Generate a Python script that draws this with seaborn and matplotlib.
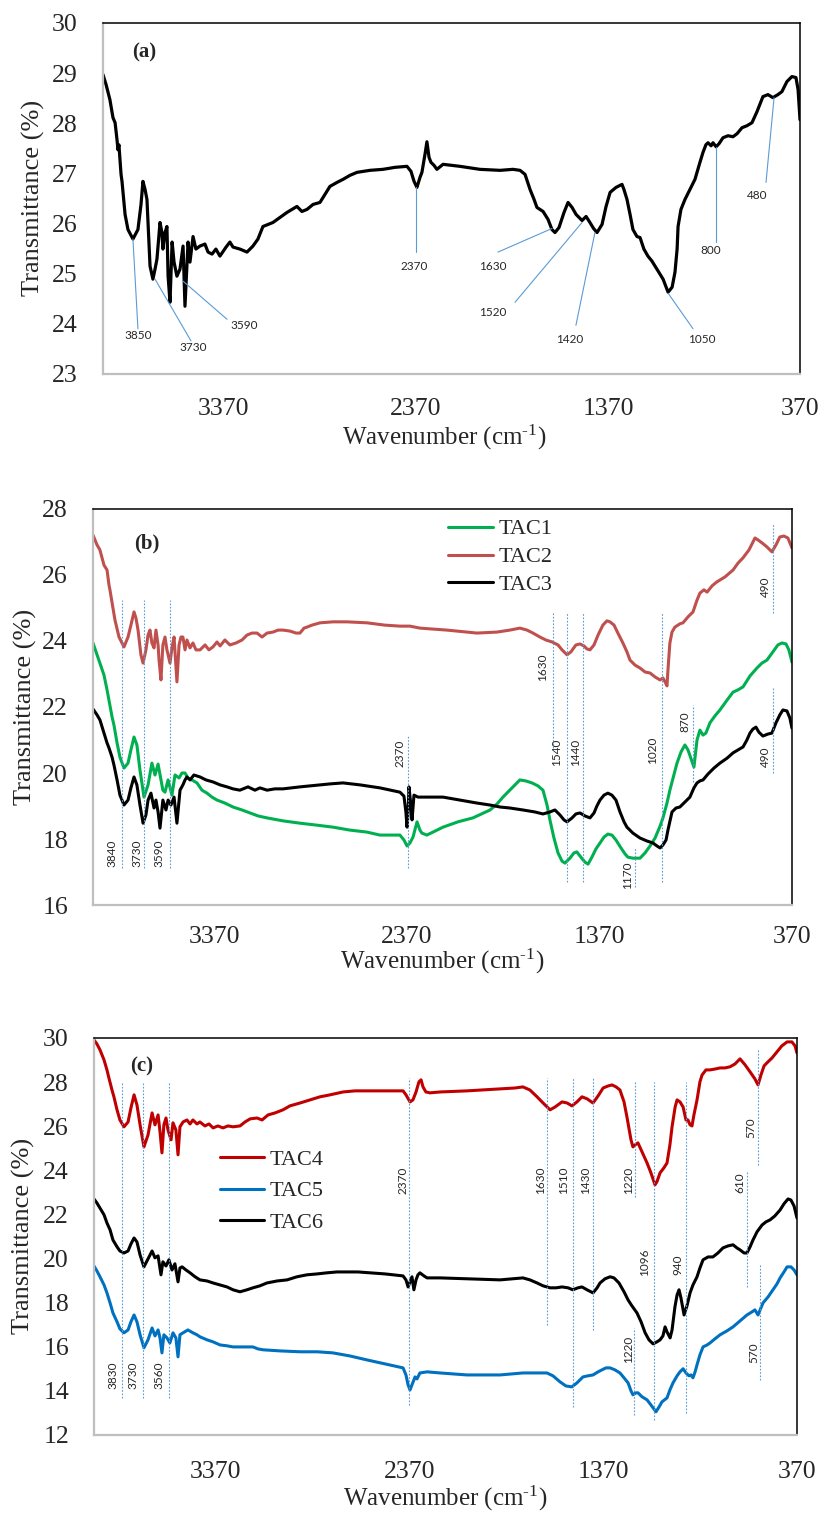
import pandas as pd
import matplotlib
matplotlib.use("Agg")
import matplotlib.pyplot as plt
import seaborn as sns

# ---------------- data ----------------
# panel (a): single spectrum
a_wn = [4000, 3984, 3964, 3948, 3937, 3927, 3922, 3917, 3906, 3901,
        3885, 3870, 3844, 3818, 3802, 3792, 3781, 3771, 3755, 3740,
        3729, 3719, 3703, 3693, 3688, 3677, 3667, 3661, 3651, 3640,
        3630, 3615, 3599, 3583, 3573, 3557, 3547, 3531, 3516, 3495,
        3469, 3453, 3432, 3412, 3391, 3359, 3339, 3323, 3287, 3250,
        3219, 3193, 3167, 3141, 3115, 3078, 3042, 3016, 2990, 2964,
        2938, 2906, 2870, 2844, 2818, 2781, 2750, 2714, 2677, 2610,
        2542, 2479, 2417, 2396, 2380, 2365, 2349, 2339, 2323, 2313,
        2302, 2292, 2276, 2261, 2229, 2141, 2037, 1932, 1865, 1828,
        1802, 1776, 1755, 1740, 1708, 1682, 1662, 1646, 1625, 1599,
        1578, 1557, 1536, 1505, 1484, 1464, 1445, 1427, 1401, 1380,
        1359, 1328, 1297, 1287, 1271, 1255, 1240, 1219, 1203, 1183,
        1162, 1141, 1115, 1083, 1057, 1036, 1021, 1010, 1005, 990,
        969, 943, 917, 891, 875, 860, 849, 833, 823, 807,
        792, 771, 745, 719, 698, 672, 646, 620, 594, 563,
        537, 511, 485, 464, 438, 412, 391, 380, 370]
a_t = [28.97, 28.77, 28.47, 28.11, 28.01, 27.67, 27.47, 27.57, 26.98, 26.84,
       26.18, 25.88, 25.69, 25.88, 26.38, 26.84, 26.68, 26.48, 25.15, 24.89,
       25.09, 25.29, 26.02, 25.82, 25.49, 25.82, 25.94, 24.95, 24.43, 25.63,
       25.23, 24.95, 25.09, 25.55, 24.35, 25.63, 25.23, 25.74, 25.49, 25.55,
       25.59, 25.43, 25.39, 25.49, 25.35, 25.53, 25.63, 25.53, 25.49, 25.43,
       25.55, 25.69, 25.94, 25.98, 26.02, 26.12, 26.22, 26.28, 26.34, 26.24,
       26.28, 26.38, 26.42, 26.58, 26.74, 26.82, 26.88, 26.96, 27.02, 27.06,
       27.08, 27.12, 27.14, 27.04, 26.84, 26.72, 26.92, 27.02, 27.38, 27.63,
       27.32, 27.22, 27.16, 27.08, 27.18, 27.14, 27.08, 27.06, 27.08, 27.06,
       26.98, 26.68, 26.48, 26.32, 26.24, 26.08, 25.88, 25.82, 25.92, 26.22,
       26.42, 26.32, 26.18, 26.06, 26.14, 26.02, 25.90, 25.82, 25.98, 26.34,
       26.62, 26.72, 26.78, 26.68, 26.48, 26.18, 25.88, 25.74, 25.72, 25.49,
       25.35, 25.25, 25.09, 24.89, 24.63, 24.73, 25.03, 25.49, 25.94, 26.28,
       26.48, 26.68, 26.88, 27.22, 27.42, 27.57, 27.61, 27.55, 27.61, 27.53,
       27.59, 27.71, 27.75, 27.73, 27.79, 27.91, 27.95, 28.01, 28.23, 28.53,
       28.57, 28.51, 28.57, 28.63, 28.83, 28.93, 28.91, 28.67, 28.07]

# panel (b)
tac1_wn = [4000, 3979, 3964, 3943, 3927, 3917, 3901, 3891, 3875, 3860,
           3839, 3818, 3803, 3787, 3772, 3756, 3735, 3714, 3694, 3678,
           3662, 3647, 3637, 3626, 3610, 3590, 3574, 3553, 3538, 3522,
           3507, 3486, 3460, 3434, 3408, 3382, 3356, 3315, 3273, 3226,
           3185, 3143, 3096, 3013, 2925, 2837, 2754, 2665, 2577, 2510,
           2406, 2385, 2369, 2354, 2338, 2317, 2302, 2292, 2266, 2182,
           2105, 2027, 1938, 1902, 1871, 1824, 1783, 1752, 1720, 1689,
           1663, 1642, 1627, 1606, 1585, 1564, 1549, 1523, 1502, 1487,
           1466, 1445, 1429, 1409, 1388, 1367, 1346, 1326, 1305, 1284,
           1258, 1237, 1222, 1196, 1159, 1133, 1107, 1081, 1055, 1040,
           1019, 1004, 983, 967, 946, 926, 910, 895, 879, 868,
           863, 848, 832, 817, 796, 770, 744, 707, 676, 650,
           624, 588, 552, 526, 500, 469, 443, 422, 401, 386,
           370]
tac1_t = [23.94, 23.58, 23.33, 22.97, 22.52, 22.21, 21.70, 21.45, 20.91, 20.48,
          20.15, 20.30, 20.70, 21.09, 20.85, 20.09, 19.27, 19.64, 20.30, 19.94,
          20.27, 19.79, 19.48, 19.42, 19.79, 19.33, 19.94, 19.85, 20.00, 20.00,
          19.85, 19.79, 19.70, 19.48, 19.39, 19.27, 19.18, 19.09, 18.97, 18.88,
          18.79, 18.70, 18.64, 18.55, 18.48, 18.42, 18.36, 18.27, 18.21, 18.12,
          18.12, 17.97, 17.79, 17.88, 18.06, 18.52, 18.27, 18.18, 18.12, 18.36,
          18.52, 18.64, 18.88, 19.06, 19.27, 19.55, 19.79, 19.76, 19.70, 19.61,
          19.48, 19.03, 18.58, 18.03, 17.58, 17.33, 17.27, 17.42, 17.58, 17.61,
          17.45, 17.30, 17.24, 17.45, 17.70, 17.88, 18.06, 18.15, 18.12, 17.97,
          17.73, 17.55, 17.45, 17.42, 17.42, 17.58, 17.79, 18.03, 18.39, 18.64,
          19.09, 19.48, 19.94, 20.30, 20.64, 20.85, 20.70, 20.45, 20.18, 20.76,
          21.00, 21.30, 21.15, 21.21, 21.52, 21.73, 21.91, 22.21, 22.45, 22.52,
          22.61, 22.94, 23.18, 23.33, 23.42, 23.67, 23.88, 23.94, 23.91, 23.73,
          23.36]

tac2_wn = [4000, 3979, 3964, 3943, 3927, 3917, 3912, 3896, 3886, 3865,
           3839, 3818, 3803, 3787, 3777, 3766, 3751, 3740, 3725, 3714,
           3704, 3694, 3683, 3673, 3662, 3657, 3647, 3637, 3626, 3616,
           3600, 3590, 3579, 3564, 3553, 3543, 3533, 3522, 3512, 3496,
           3481, 3465, 3444, 3418, 3398, 3377, 3356, 3340, 3315, 3289,
           3257, 3226, 3200, 3174, 3148, 3122, 3096, 3065, 3039, 3013,
           2977, 2946, 2925, 2904, 2889, 2863, 2821, 2754, 2681, 2577,
           2484, 2406, 2354, 2302, 2162, 2006, 1902, 1835, 1783, 1746,
           1715, 1679, 1648, 1616, 1585, 1564, 1538, 1518, 1492, 1471,
           1450, 1435, 1419, 1398, 1377, 1352, 1331, 1315, 1294, 1274,
           1248, 1227, 1211, 1185, 1159, 1133, 1107, 1081, 1055, 1040,
           1029, 1019, 1014, 1004, 993, 978, 952, 936, 910, 884,
           863, 848, 827, 811, 785, 760, 718, 676, 650, 624,
           593, 562, 546, 525, 500, 474, 453, 433, 412, 391,
           370]
tac2_t = [27.21, 26.91, 26.76, 26.30, 26.15, 25.70, 25.55, 25.00, 24.64, 24.12,
          23.82, 24.12, 24.48, 24.88, 24.70, 24.33, 23.58, 23.33, 23.73, 24.18,
          24.33, 23.94, 23.79, 24.33, 23.88, 23.42, 22.82, 23.88, 24.12, 23.73,
          23.33, 23.79, 24.12, 22.76, 23.88, 24.12, 24.12, 23.73, 24.03, 23.79,
          23.94, 23.73, 23.73, 23.88, 23.73, 23.82, 23.97, 23.85, 24.03, 23.88,
          23.94, 24.03, 24.18, 24.24, 24.24, 24.12, 24.24, 24.27, 24.33, 24.33,
          24.30, 24.24, 24.24, 24.39, 24.42, 24.48, 24.55, 24.58, 24.58, 24.55,
          24.48, 24.45, 24.45, 24.39, 24.33, 24.24, 24.27, 24.33, 24.39, 24.33,
          24.24, 24.12, 24.03, 23.97, 23.88, 23.73, 23.58, 23.67, 23.88, 23.91,
          23.85, 23.76, 23.73, 23.88, 24.18, 24.48, 24.61, 24.58, 24.48, 24.24,
          23.94, 23.67, 23.42, 23.27, 23.18, 23.06, 23.03, 22.91, 22.82, 22.88,
          22.76, 22.64, 23.12, 23.94, 24.27, 24.42, 24.52, 24.55, 24.73, 24.88,
          25.24, 25.45, 25.55, 25.48, 25.67, 25.79, 25.94, 26.15, 26.36, 26.52,
          26.76, 27.12, 27.06, 26.97, 26.85, 26.70, 26.91, 27.15, 27.18, 27.12,
          26.82]

tac3_wn = [4000, 3979, 3964, 3943, 3927, 3917, 3901, 3891, 3875, 3860,
           3839, 3818, 3803, 3787, 3772, 3756, 3740, 3725, 3714, 3699,
           3683, 3673, 3662, 3652, 3637, 3621, 3610, 3595, 3579, 3564,
           3548, 3533, 3522, 3512, 3496, 3476, 3444, 3413, 3377, 3340,
           3304, 3273, 3237, 3195, 3159, 3133, 3096, 3055, 3013, 2925,
           2873, 2821, 2769, 2702, 2613, 2510, 2406, 2385, 2375, 2369,
           2364, 2359, 2349, 2343, 2333, 2312, 2286, 2182, 2094, 2006,
           1938, 1886, 1835, 1767, 1705, 1663, 1627, 1601, 1575, 1554,
           1538, 1512, 1492, 1471, 1445, 1419, 1398, 1383, 1367, 1346,
           1326, 1305, 1284, 1263, 1242, 1227, 1196, 1159, 1123, 1092,
           1071, 1055, 1040, 1024, 1014, 993, 972, 952, 926, 900,
           879, 863, 848, 832, 806, 775, 744, 707, 676, 650,
           624, 604, 588, 573, 557, 542, 521, 495, 474, 453,
           433, 417, 396, 381, 370]
tac3_t = [21.94, 21.76, 21.61, 21.21, 20.91, 20.76, 20.48, 20.24, 19.79, 19.33,
          19.03, 19.18, 19.55, 19.88, 19.64, 19.03, 18.48, 18.73, 19.18, 19.39,
          18.94, 19.18, 18.82, 18.33, 19.18, 18.88, 19.18, 19.03, 19.27, 18.48,
          19.48, 19.64, 19.79, 19.88, 19.79, 19.94, 19.88, 19.79, 19.73, 19.64,
          19.58, 19.52, 19.48, 19.58, 19.48, 19.55, 19.48, 19.52, 19.52, 19.58,
          19.61, 19.64, 19.67, 19.70, 19.64, 19.55, 19.42, 19.30, 18.82, 18.36,
          18.73, 19.58, 19.03, 18.58, 19.33, 19.27, 19.27, 19.27, 19.18, 19.09,
          19.03, 18.97, 18.94, 18.88, 18.82, 18.76, 18.82, 18.88, 18.73, 18.58,
          18.52, 18.64, 18.76, 18.79, 18.70, 18.64, 18.79, 19.00, 19.18, 19.33,
          19.39, 19.33, 19.18, 18.82, 18.52, 18.36, 18.18, 18.03, 17.94, 17.88,
          17.79, 17.73, 17.82, 17.97, 18.27, 18.82, 18.94, 18.97, 19.12, 19.27,
          19.55, 19.70, 19.76, 19.79, 19.97, 20.15, 20.30, 20.45, 20.61, 20.70,
          20.79, 21.00, 21.21, 21.33, 21.39, 21.24, 21.12, 21.18, 21.21, 21.52,
          21.76, 21.91, 21.88, 21.67, 21.36]

# panel (c)
tac4_wn = [4000, 3985, 3969, 3948, 3933, 3923, 3907, 3897, 3881, 3866,
           3845, 3824, 3809, 3793, 3778, 3762, 3742, 3721, 3700, 3685,
           3669, 3659, 3649, 3639, 3628, 3618, 3602, 3592, 3577, 3566,
           3556, 3540, 3520, 3504, 3489, 3468, 3453, 3427, 3406, 3385,
           3360, 3334, 3308, 3282, 3246, 3220, 3194, 3158, 3132, 3101,
           3065, 3024, 2988, 2936, 2885, 2833, 2781, 2714, 2652, 2590,
           2497, 2404, 2389, 2368, 2353, 2337, 2322, 2311, 2301, 2286,
           2265, 2213, 2074, 1903, 1826, 1785, 1749, 1712, 1681, 1645,
           1619, 1583, 1557, 1532, 1506, 1480, 1454, 1423, 1397, 1371,
           1346, 1325, 1304, 1284, 1263, 1248, 1227, 1217, 1206, 1191,
           1170, 1144, 1124, 1103, 1093, 1077, 1057, 1041, 1026, 1015,
           999, 989, 974, 958, 943, 933, 922, 912, 902, 886,
           871, 860, 840, 819, 793, 767, 742, 716, 690, 664,
           638, 612, 587, 571, 556, 540, 525, 499, 473, 448,
           421, 396, 380, 370]
tac4_t = [29.91, 29.73, 29.46, 29.00, 28.55, 28.19, 27.64, 27.33, 26.74, 26.28,
          25.97, 26.19, 26.83, 27.42, 26.96, 26.06, 25.06, 25.60, 26.60, 26.06,
          26.51, 25.74, 24.79, 26.06, 26.37, 25.83, 25.38, 26.15, 25.83, 24.70,
          25.97, 26.19, 26.28, 26.10, 26.28, 26.10, 26.19, 26.01, 26.10, 25.92,
          26.01, 25.92, 26.01, 25.97, 26.01, 26.19, 26.33, 26.37, 26.28, 26.51,
          26.60, 26.74, 26.92, 27.05, 27.19, 27.33, 27.42, 27.55, 27.60, 27.60,
          27.60, 27.60, 27.42, 27.10, 27.19, 27.55, 28.01, 28.10, 27.78, 27.55,
          27.51, 27.55, 27.60, 27.69, 27.73, 27.78, 27.64, 27.33, 27.05, 26.74,
          26.87, 27.10, 27.05, 26.92, 27.10, 27.33, 27.24, 27.05, 27.37, 27.73,
          27.82, 27.87, 27.78, 27.64, 27.10, 26.42, 25.38, 25.06, 25.15, 25.24,
          24.83, 24.33, 23.88, 23.34, 23.48, 23.88, 24.11, 24.33, 25.15, 25.97,
          26.87, 27.19, 27.10, 26.87, 26.28, 26.28, 26.06, 26.01, 26.51, 27.19,
          28.01, 28.32, 28.55, 28.55, 28.59, 28.64, 28.64, 28.69, 28.82, 29.05,
          28.78, 28.46, 28.14, 27.87, 28.32, 28.73, 28.87, 29.09, 29.37, 29.64,
          29.82, 29.82, 29.64, 29.32]

tac5_wn = [4000, 3985, 3969, 3948, 3933, 3917, 3902, 3881, 3866, 3845,
           3824, 3809, 3793, 3778, 3762, 3742, 3721, 3700, 3685, 3669,
           3659, 3649, 3639, 3623, 3608, 3592, 3577, 3566, 3556, 3540,
           3515, 3489, 3468, 3453, 3416, 3385, 3349, 3313, 3282, 3231,
           3179, 3153, 3127, 3039, 2936, 2848, 2766, 2678, 2590, 2497,
           2404, 2389, 2378, 2368, 2358, 2342, 2332, 2317, 2280, 2213,
           2074, 1903, 1785, 1697, 1661, 1630, 1594, 1563, 1532, 1506,
           1475, 1449, 1423, 1397, 1377, 1356, 1335, 1310, 1284, 1263,
           1242, 1227, 1217, 1201, 1191, 1170, 1144, 1124, 1098, 1082,
           1067, 1041, 1026, 1010, 989, 974, 958, 943, 927, 917,
           907, 896, 886, 871, 855, 834, 819, 793, 767, 731,
           700, 664, 628, 602, 587, 571, 556, 545, 519, 494,
           473, 457, 437, 421, 401, 385, 370]
tac5_t = [19.66, 19.44, 19.17, 18.80, 18.44, 17.99, 17.53, 17.13, 16.81, 16.63,
          16.76, 17.13, 17.44, 17.13, 16.54, 15.95, 16.31, 16.85, 16.49, 16.76,
          16.40, 15.72, 16.54, 16.40, 16.17, 16.63, 16.40, 15.54, 16.54, 16.63,
          16.76, 16.63, 16.54, 16.45, 16.31, 16.22, 16.08, 16.04, 15.99, 15.99,
          15.99, 15.90, 15.86, 15.81, 15.77, 15.77, 15.72, 15.58, 15.40, 15.22,
          15.04, 14.72, 14.27, 14.04, 14.27, 14.63, 14.54, 14.81, 14.86, 14.81,
          14.72, 14.72, 14.81, 14.81, 14.81, 14.68, 14.41, 14.22, 14.18, 14.36,
          14.63, 14.68, 14.72, 14.86, 14.95, 15.04, 15.04, 14.95, 14.81, 14.59,
          14.36, 14.00, 13.82, 13.91, 13.91, 13.73, 13.59, 13.36, 13.05, 13.27,
          13.50, 13.68, 14.04, 14.36, 14.68, 14.86, 15.00, 14.81, 14.68, 14.72,
          14.59, 14.86, 15.18, 15.63, 15.99, 16.08, 16.17, 16.36, 16.54, 16.72,
          16.90, 17.17, 17.44, 17.58, 17.67, 17.44, 17.76, 17.99, 18.26, 18.58,
          18.85, 19.12, 19.39, 19.62, 19.62, 19.48, 19.26]

tac6_wn = [4000, 3985, 3969, 3948, 3933, 3917, 3902, 3881, 3866, 3845,
           3824, 3809, 3793, 3778, 3762, 3742, 3721, 3700, 3685, 3669,
           3654, 3644, 3628, 3613, 3597, 3582, 3566, 3556, 3545, 3525,
           3504, 3478, 3453, 3416, 3385, 3349, 3313, 3282, 3246, 3210,
           3179, 3143, 3107, 3055, 3003, 2952, 2900, 2848, 2797, 2745,
           2694, 2637, 2575, 2497, 2404, 2389, 2378, 2368, 2358, 2353,
           2348, 2337, 2327, 2317, 2296, 2280, 2213, 2074, 1903, 1785,
           1749, 1712, 1681, 1645, 1614, 1583, 1552, 1527, 1501, 1480,
           1454, 1423, 1402, 1387, 1361, 1335, 1315, 1289, 1263, 1242,
           1222, 1196, 1175, 1154, 1134, 1113, 1093, 1077, 1062, 1051,
           1041, 1025, 1015, 1000, 989, 979, 969, 953, 938, 922,
           907, 886, 871, 855, 829, 804, 778, 752, 726, 700,
           680, 664, 643, 628, 612, 597, 576, 550, 530, 509,
           484, 457, 437, 416, 401, 385, 370]
tac6_t = [22.70, 22.52, 22.29, 21.98, 21.61, 21.30, 20.84, 20.53, 20.34, 20.25,
          20.34, 20.66, 20.93, 20.75, 20.16, 19.62, 19.98, 20.34, 20.03, 20.12,
          19.26, 19.85, 19.66, 19.94, 19.48, 19.76, 18.94, 19.57, 19.62, 19.48,
          19.35, 19.17, 19.03, 18.98, 18.89, 18.80, 18.71, 18.58, 18.49, 18.58,
          18.67, 18.76, 18.89, 18.98, 19.03, 19.17, 19.26, 19.30, 19.35, 19.39,
          19.39, 19.39, 19.35, 19.30, 19.21, 19.03, 18.71, 18.94, 19.17, 18.89,
          18.58, 19.03, 19.26, 19.35, 19.21, 19.12, 19.12, 19.08, 19.03, 19.12,
          19.03, 18.89, 18.76, 18.67, 18.67, 18.71, 18.67, 18.58, 18.67, 18.71,
          18.58, 18.44, 18.67, 18.89, 19.08, 19.17, 19.12, 18.89, 18.49, 18.12,
          17.85, 17.53, 17.13, 16.63, 16.31, 16.13, 16.22, 16.31, 16.49, 16.90,
          16.67, 16.40, 16.76, 17.81, 18.35, 18.58, 18.21, 17.44, 17.85, 18.44,
          18.80, 19.17, 19.57, 19.94, 20.07, 20.07, 20.25, 20.48, 20.57, 20.62,
          20.48, 20.39, 20.25, 20.25, 20.53, 20.84, 21.21, 21.52, 21.66, 21.75,
          21.93, 22.20, 22.48, 22.70, 22.65, 22.38, 21.84]

# peak labels -- (a): label, peak (wn, T), end of leader line, text centre
a_peaks = [("3850", (3844, 25.69), (3818, 23.90), (3818, 23.76)),
           ("3730", (3729, 24.89), (3542, 23.66), (3531, 23.52)),
           ("3590", (3583, 24.85), (3354, 24.09), (3266, 23.96)),
           ("2370", (2370, 26.72), (2370, 25.43), (2380, 25.15)),
           ("1630", (1662, 25.90), (1943, 25.43), (1969, 25.15)),
           ("1520", (1505, 26.02), (1854, 24.43), (1969, 24.23)),
           ("1420", (1438, 25.82), (1537, 23.97), (1568, 23.68)),
           ("1050", (1057, 24.61), (927, 23.90), (880, 23.68)),
           ("800", (807, 27.53), (807, 25.63), (833, 25.47)),
           ("480", (505, 28.51), (547, 26.82), (594, 26.56))]

# (b), (c): label, wn of dotted guide, guide bottom, guide top, text centre
b_marks = [("3840", 3850, 17.12, 25.24, (3901, 17.58)),
           ("3730", 3735, 17.12, 25.24, (3771, 17.58)),
           ("3590", 3600, 17.12, 25.24, (3657, 17.58)),
           ("2370", 2362, 17.12, 21.15, (2406, 20.60)),
           ("1630", 1611, 20.76, 24.85, (1663, 23.21)),
           ("1540", 1539, 16.70, 24.85, (1590, 20.64)),
           ("1440", 1455, 16.70, 24.85, (1492, 20.64)),
           ("1020", 1045, 16.70, 24.85, (1092, 20.70)),
           ("1170", 1185, 16.55, 17.76, (1222, 16.90)),
           ("870", 884, 19.73, 22.06, (926, 21.55)),
           ("490", 469, 24.85, 27.58, (510, 25.64)),
           ("490", 469, 20.00, 22.60, (510, 20.48))]

c_marks = [("3830", 3855, 13.68, 27.96, (3902, 14.72)),
           ("3730", 3747, 13.68, 27.96, (3799, 14.72)),
           ("3560", 3613, 13.68, 27.96, (3664, 14.72)),
           ("2370", 2373, 13.36, 28.19, (2404, 23.56)),
           ("1630", 1661, 17.00, 28.19, (1692, 23.56)),
           ("1510", 1527, 13.27, 28.19, (1573, 23.56)),
           ("1430", 1423, 16.76, 28.19, (1459, 23.56)),
           ("1220", 1206, 22.80, 28.00, (1242, 23.56)),
           ("1096", 1108, 12.68, 28.00, (1155, 19.85)),
           ("940", 943, 13.00, 28.00, (984, 19.70)),
           ("1220", 1211, 12.91, 16.85, (1242, 15.86)),
           ("570", 571, 24.24, 29.50, (607, 25.92)),
           ("610", 628, 18.71, 23.93, (664, 23.43)),
           ("570", 561, 14.50, 19.71, (592, 15.72))]

x_ticks = [3370, 2370, 1370, 370]

# ---------------- style ----------------
sns.set_style("white")
plt.rcParams['font.family'] = ['Liberation Serif', 'DejaVu Serif']
plt.rcParams['mathtext.fontset'] = 'custom'
plt.rcParams['mathtext.rm'] = 'Liberation Serif'
plt.rcParams['mathtext.it'] = 'Liberation Serif:italic'

small_font = ['Lato', 'DejaVu Sans']
guide_col = '#5b9bd5'

fig = plt.figure(figsize=(8.2, 15.17), dpi=100)
ax_a = fig.add_axes([0.1256, 0.7535, 0.8500, 0.2314])
ax_b = fig.add_axes([0.1134, 0.4034, 0.8524, 0.2611])
ax_c = fig.add_axes([0.1146, 0.0541, 0.8573, 0.2617])


def frame(ax, ylim, ystep, ylab_x, xlab_y, xlab_x, xpad, ticklen):
    ax.set_xlim(4000, 370)
    ax.set_ylim(*ylim)
    ax.set_xticks(x_ticks)
    ax.set_yticks(range(ylim[0], ylim[1] + 1, ystep))
    ax.tick_params(axis='y', labelsize=18.5, length=0, pad=18)
    ax.tick_params(axis='x', labelsize=18.5, length=ticklen, pad=xpad,
                   color='#bfbfbf', width=1.2, direction='out')
    for s in ['left', 'bottom']:
        ax.spines[s].set_color('#bfbfbf')
        ax.spines[s].set_linewidth(1.6)
    for s in ['top', 'right']:
        ax.spines[s].set_color('black')
        ax.spines[s].set_linewidth(1.1)
    ax.set_ylabel('Transmittance (%)', fontsize=19, va='center')
    ax.yaxis.set_label_coords(ylab_x, 0.5)
    ax.set_xlabel('Wavenumber (cm$^{\\text{-1}}$)', fontsize=18, va='center')
    ax.xaxis.set_label_coords(xlab_x, xlab_y)
    ax.grid(False)


def dotted_marks(ax, marks):
    for lbl, wn, lo, hi, (tx, ty) in marks:
        ax.vlines(wn, lo, hi, colors=guide_col, linestyles=(0, (1.5, 1.5)), lw=0.8)
        ax.text(tx, ty, lbl, rotation=90, ha='center', va='center',
                fontsize=8.5, family=small_font, color='#262626')


# ---- (a) ----
df_a = pd.DataFrame({'wn': a_wn, 'T': a_t})
sns.lineplot(data=df_a, x='wn', y='T', ax=ax_a, color='black', lw=2.3,
             sort=False, estimator=None)
for lbl, pk, end, txt in a_peaks:
    ax_a.plot([pk[0], end[0]], [pk[1], end[1]], color=guide_col, lw=0.8)
    ax_a.text(txt[0], txt[1], lbl, ha='center', va='center', fontsize=8.5,
              family=small_font, color='#262626')
ax_a.text(0.059, 0.915, '(a)', transform=ax_a.transAxes, fontsize=15,
          fontweight='bold', ha='center', va='center')
frame(ax_a, (23, 30), 1, -0.100, -0.182, 0.49, 17, 0)

# ---- (b) ----
df_b = pd.concat([pd.DataFrame({'wn': w, 'T': t, 'sample': n}) for n, w, t in
                  [('TAC1', tac1_wn, tac1_t), ('TAC2', tac2_wn, tac2_t),
                   ('TAC3', tac3_wn, tac3_t)]])
sns.lineplot(data=df_b, x='wn', y='T', hue='sample',
             hue_order=['TAC1', 'TAC2', 'TAC3'],
             palette={'TAC1': '#00b050', 'TAC2': '#c0504d', 'TAC3': 'black'},
             lw=2.2, sort=False, estimator=None, ax=ax_b)
dotted_marks(ax_b, b_marks)
h, l = ax_b.get_legend_handles_labels()
ax_b.legend(h, l, loc='upper left', bbox_to_anchor=(0.508, 0.975), frameon=False,
            fontsize=16, handlelength=2.0, handletextpad=0.25, labelspacing=0.33,
            borderpad=0, borderaxespad=0)
ax_b.text(0.077, 0.914, '(b)', transform=ax_b.transAxes, fontsize=15,
          fontweight='bold', ha='center', va='center')
frame(ax_b, (16, 28), 2, -0.097, -0.142, 0.499, 15, 0)

# ---- (c) ----
df_c = pd.concat([pd.DataFrame({'wn': w, 'T': t, 'sample': n}) for n, w, t in
                  [('TAC4', tac4_wn, tac4_t), ('TAC5', tac5_wn, tac5_t),
                   ('TAC6', tac6_wn, tac6_t)]])
sns.lineplot(data=df_c, x='wn', y='T', hue='sample',
             hue_order=['TAC4', 'TAC5', 'TAC6'],
             palette={'TAC4': '#c00000', 'TAC5': '#0070c0', 'TAC6': 'black'},
             lw=2.2, sort=False, estimator=None, ax=ax_c)
dotted_marks(ax_c, c_marks)
h, l = ax_c.get_legend_handles_labels()
ax_c.legend(h, l, loc='upper left', bbox_to_anchor=(0.179, 0.720), frameon=False,
            fontsize=16, handlelength=2.0, handletextpad=0.25, labelspacing=0.5,
            borderpad=0, borderaxespad=0)
ax_c.text(0.068, 0.927, '(c)', transform=ax_c.transAxes, fontsize=15,
          fontweight='bold', ha='center', va='center')
frame(ax_c, (12, 30), 2, -0.101, -0.159, 0.499, 13, 6)

fig.savefig('out.png', dpi=100)
